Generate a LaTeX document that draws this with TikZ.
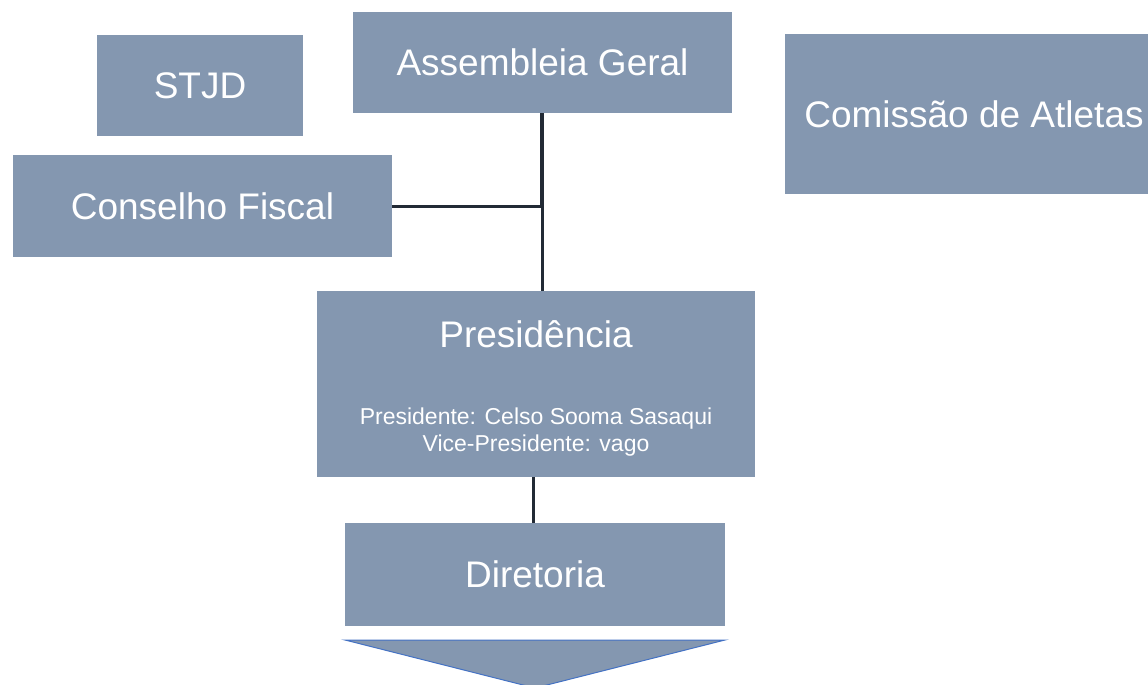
\documentclass[tikz,border=0pt]{standalone}
\usepackage{fontspec}
\setmainfont{Liberation Sans}
\definecolor{boxfill}{HTML}{8497B0}
\definecolor{linecol}{HTML}{222A35}
\definecolor{triline}{HTML}{4472C4}
\begin{document}
\begin{tikzpicture}[x={(1pt,0)},y={(0,-1pt)},
  box/.style={rectangle,fill=boxfill,draw=none,inner sep=0pt,text=white,font=\fontsize{37}{44}\selectfont},
  small/.style={text=white,inner sep=0pt,font=\fontsize{23}{27}\selectfont},
  conn/.style={draw=linecol,line width=3pt},
  connthick/.style={draw=linecol,line width=4pt}]
\useasboundingbox (0,0) rectangle (1148,685);
\clip (0,0) rectangle (1148,685);
\node[box,minimum width=206pt,minimum height=101pt] (stjd) at (200,85.5) {STJD};
\node[box,minimum width=379pt,minimum height=101pt] (ag) at (542.5,62.5) {Assembleia Geral};
\node[box,minimum width=378pt,minimum height=160pt] (ca) at (974,114) {Comissão de Atletas};
\node[box,minimum width=379pt,minimum height=102pt] (cf) at (202.5,206) {Conselho Fiscal};
\node[box,minimum width=438pt,minimum height=186pt] (pres) at (536,384) {};
\node[box,anchor=base] (prest) at (536,347) {Presidência};
\node[small,anchor=base] (pres1) at (536,424) {Presidente: Celso Sooma Sasaqui};
\node[small,anchor=base] (pres2) at (536,451) {Vice-Presidente: vago};
\node[box,minimum width=380pt,minimum height=103pt] (dir) at (535,574.5) {Diretoria};
\coordinate (j) at (542,206);
\coordinate (pd) at (533,0);
\draw[connthick] (ag.south -| j) -- (j);
\draw[conn] (cf.east) -- (j);
\draw[conn] (j) -- (pres.north -| j);
\draw[conn] (pres.south -| pd) -- (dir.north -| pd);
\draw[fill=boxfill,draw=triline,line width=1pt] (345,640) -- (725,640) -- (535,688) -- cycle;
\end{tikzpicture}
\end{document}
